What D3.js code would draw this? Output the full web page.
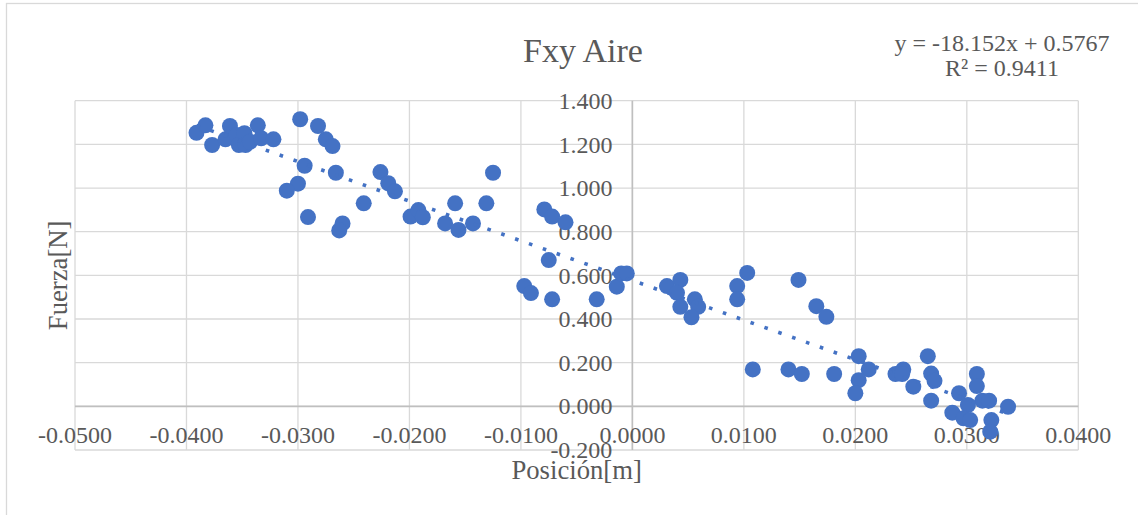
<!DOCTYPE html>
<html>
<head>
<meta charset="utf-8">
<script src="https://cdn.jsdelivr.net/npm/d3@7"></script>
<style>
  body { margin: 0; background: #fff; }
  svg { display: block; font-family: "Liberation Serif", "Times New Roman", serif; }
  .grid line { stroke: #d9d9d9; stroke-width: 1.3; }
  .zero { stroke: #bfbfbf; stroke-width: 1.6; }
  .tick-label { fill: #595959; font-size: 24px; }
  .axis-title { fill: #595959; font-size: 26.7px; }
  .trend { fill: none; stroke: #4472c4; stroke-width: 3.6; stroke-dasharray: 3.6 11.1; }
  circle { fill: #4472c4; }
</style>
</head>
<body>
<div id="chart"></div>
<script>
// posicion [m] vs fuerza [N]
var posX = [-0.0391, -0.0383, -0.0377, -0.0365, -0.0361, -0.0355, -0.0353, -0.0348, -0.0347, -0.0343,
  -0.0336, -0.0333, -0.0322, -0.0298, -0.0282, -0.0275, -0.0269, -0.0294, -0.0266, -0.0300,
  -0.0310, -0.0291, -0.0260, -0.0263, -0.0226, -0.0219, -0.0213, -0.0241, -0.0199, -0.0192,
  -0.0188, -0.0168, -0.0159, -0.0156, -0.0143, -0.0131, -0.0125, -0.0079, -0.0072, -0.0060,
  -0.0075, -0.0097, -0.0091, -0.0072, -0.0032, -0.0014, -0.0010, -0.0005, 0.0031, 0.0043,
  0.0040, 0.0043, 0.0056, 0.0059, 0.0053, 0.0094, 0.0094, 0.0103, 0.0149, 0.0165,
  0.0174, 0.0108, 0.0140, 0.0152, 0.0181, 0.0203, 0.0212, 0.0203, 0.0200, 0.0236,
  0.0243, 0.0242, 0.0252, 0.0265, 0.0268, 0.0271, 0.0268, 0.0293, 0.0287, 0.0301,
  0.0309, 0.0309, 0.0314, 0.0320, 0.0337, 0.0297, 0.0303, 0.0322, 0.0321];
var fuerzaY = [1.253, 1.287, 1.197, 1.223, 1.284, 1.243, 1.197, 1.251, 1.197, 1.212,
  1.287, 1.228, 1.223, 1.315, 1.284, 1.223, 1.192, 1.102, 1.070, 1.020,
  0.988, 0.867, 0.838, 0.806, 1.073, 1.022, 0.985, 0.930, 0.869, 0.899,
  0.866, 0.838, 0.930, 0.808, 0.838, 0.930, 1.070, 0.902, 0.869, 0.843,
  0.670, 0.551, 0.519, 0.490, 0.490, 0.548, 0.609, 0.609, 0.551, 0.579,
  0.520, 0.456, 0.490, 0.456, 0.408, 0.551, 0.490, 0.611, 0.579, 0.459,
  0.410, 0.169, 0.169, 0.148, 0.148, 0.230, 0.169, 0.120, 0.060, 0.148,
  0.169, 0.148, 0.090, 0.230, 0.150, 0.117, 0.026, 0.060, -0.029, 0.006,
  0.148, 0.093, 0.026, 0.026, -0.002, -0.055, -0.063, -0.063, -0.116];

var xTicks = [-0.05, -0.04, -0.03, -0.02, -0.01, 0, 0.01, 0.02, 0.03, 0.04];
var yTicks = [-0.2, 0, 0.2, 0.4, 0.6, 0.8, 1.0, 1.2, 1.4];

var slope = -18.152, intercept = 0.5767, r2 = 0.9411;
var titleText = "Fxy Aire", xTitle = "Posición[m]", yTitle = "Fuerza[N]";

var width = 1138, height = 515;
// note: "top" is taken by window.top, so use plot* names
var plotLeft = 75, plotRight = 1078.3, plotTop = 100.7, plotBottom = 450;

// excel-style labels use a plain hyphen, not d3's unicode minus
function fmt(spec) {
  var f = d3.format(spec);
  return function(d) { return f(d).replace("\u2212", "-"); };
}

var svg = d3.select("#chart").append("svg")
  .attr("width", width)
  .attr("height", height);

// chart area border (only left/top edges fall inside the frame)
svg.append("rect")
  .attr("x", 6.5).attr("y", 3.5)
  .attr("width", 1300).attr("height", 700)
  .attr("fill", "none").attr("stroke", "#d9d9d9").attr("stroke-width", 1.3);

var x = d3.scaleLinear().domain([-0.05, 0.04]).range([plotLeft, plotRight]);
var y = d3.scaleLinear().domain([-0.2, 1.4]).range([plotBottom, plotTop]);

var grid = svg.append("g").attr("class", "grid");
grid.selectAll(".v").data(xTicks).enter().append("line")
  .attr("x1", function(d) { return x(d); }).attr("x2", function(d) { return x(d); })
  .attr("y1", plotTop).attr("y2", plotBottom);
grid.selectAll(".h").data(yTicks).enter().append("line")
  .attr("y1", function(d) { return y(d); }).attr("y2", function(d) { return y(d); })
  .attr("x1", plotLeft).attr("x2", plotRight);

// axes cross at zero
svg.append("line").attr("class", "zero")
  .attr("x1", plotLeft).attr("x2", plotRight).attr("y1", y(0)).attr("y2", y(0));
svg.append("line").attr("class", "zero")
  .attr("x1", x(0)).attr("x2", x(0)).attr("y1", plotTop).attr("y2", plotBottom);

svg.selectAll(".xl").data(xTicks).enter().append("text")
  .attr("class", "tick-label")
  .attr("x", function(d) { return x(d); })
  .attr("y", y(0) + 37)
  .attr("text-anchor", "middle")
  .text(fmt(".4f"));

svg.selectAll(".yl").data(yTicks).enter().append("text")
  .attr("class", "tick-label")
  .attr("x", x(0) - 20)
  .attr("y", function(d) { return y(d); })
  .attr("dy", "0.34em")
  .attr("text-anchor", "end")
  .text(fmt(".3f"));

var points = posX.map(function(v, i) { return { x: v, y: fuerzaY[i] }; });

svg.append("g").selectAll("circle").data(points).enter().append("circle")
  .attr("cx", function(d) { return x(d.x); })
  .attr("cy", function(d) { return y(d.y); })
  .attr("r", 8);

var xExt = d3.extent(posX);
svg.append("path")
  .attr("class", "trend")
  .attr("d", d3.line()
    .x(function(d) { return x(d); })
    .y(function(d) { return y(slope * d + intercept); })(xExt));

svg.append("text").attr("class", "axis-title")
  .attr("x", 583).attr("y", 62)
  .attr("text-anchor", "middle")
  .style("font-size", "34px")
  .text(titleText);

var eq = svg.append("text").attr("class", "tick-label")
  .attr("text-anchor", "middle");
eq.append("tspan").attr("x", 1002).attr("y", 51)
  .text("y = " + slope + "x + " + intercept);
eq.append("tspan").attr("x", 1002).attr("y", 76)
  .text("R² = " + r2);

svg.append("text").attr("class", "axis-title")
  .attr("x", (plotLeft + plotRight) / 2).attr("y", 479)
  .attr("text-anchor", "middle")
  .text(xTitle);

svg.append("text").attr("class", "axis-title")
  .attr("transform", "translate(67," + ((plotTop + plotBottom) / 2) + ") rotate(-90)")
  .attr("text-anchor", "middle")
  .text(yTitle);
</script>
</body>
</html>
